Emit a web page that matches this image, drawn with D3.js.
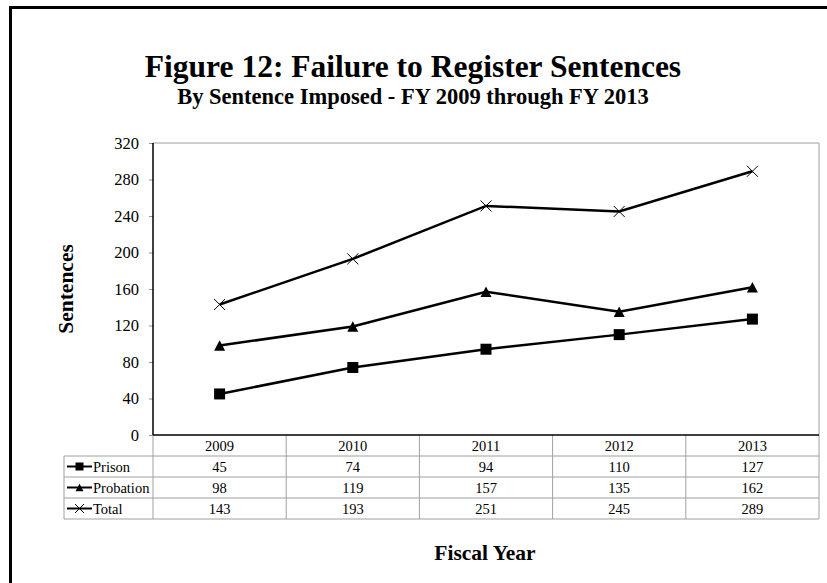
<!DOCTYPE html>
<html>
<head>
<meta charset="utf-8">
<script src="https://cdn.jsdelivr.net/npm/d3@7"></script>
<style>
  html, body { margin: 0; padding: 0; background: #fff; }
  svg { display: block; }
  text { font-family: "Liberation Serif", "Times New Roman", serif; fill: #000; }
</style>
</head>
<body>
<svg id="chart" width="827" height="583"></svg>
<script>
// Fiscal years and sentence counts by type
const years = ["2009", "2010", "2011", "2012", "2013"];
const prison = [45, 74, 94, 110, 127];
const probation = [98, 119, 157, 135, 162];
const total = [143, 193, 251, 245, 289];
const yTicks = [0, 40, 80, 120, 160, 200, 240, 280, 320];

const series = [
  { name: "Prison", values: prison, marker: "square" },
  { name: "Probation", values: probation, marker: "triangle" },
  { name: "Total", values: total, marker: "cross" }
];

const svg = d3.select("#chart");

// Outer frame (left and top edges visible)
svg.append("rect")
  .attr("x", 10.5).attr("y", 7.5)
  .attr("width", 840).attr("height", 600)
  .attr("fill", "none").attr("stroke", "#000").attr("stroke-width", 3);

// Titles
svg.append("text")
  .attr("x", 413).attr("y", 77)
  .attr("text-anchor", "middle")
  .attr("font-size", 31.5).attr("font-weight", "bold")
  .text("Figure 12: Failure to Register Sentences");
svg.append("text")
  .attr("x", 413).attr("y", 104)
  .attr("text-anchor", "middle")
  .attr("font-size", 22.5).attr("font-weight", "bold")
  .text("By Sentence Imposed - FY 2009 through FY 2013");

// Plot geometry
const plotLeft = 153, plotRight = 819, plotTop = 143, plotBottom = 435;
const x = d3.scaleBand().domain(years).range([plotLeft, plotRight]);
const y = d3.scaleLinear().domain([0, 320]).range([plotBottom, plotTop]);

// Plot area border (grey top and right)
svg.append("path")
  .attr("d", `M${plotLeft},${plotTop}H${plotRight}V${plotBottom}`)
  .attr("fill", "none").attr("stroke", "#a0a0a0").attr("stroke-width", 1);

// Y axis
const yAxis = svg.append("g")
  .attr("transform", `translate(${plotLeft},0)`)
  .call(d3.axisLeft(y).tickValues(yTicks).tickSize(4).tickPadding(10).tickFormat(d3.format("d")));
yAxis.select(".domain").remove();
yAxis.selectAll(".tick line").attr("stroke", "#909090");
yAxis.selectAll(".tick text")
  .attr("font-family", "Liberation Serif, serif")
  .attr("font-size", 16.5).attr("fill", "#000");

svg.append("line")
  .attr("x1", plotLeft).attr("x2", plotLeft).attr("y1", plotTop).attr("y2", plotBottom)
  .attr("stroke", "#000").attr("stroke-width", 1.5);

// Y axis title
svg.append("text")
  .attr("transform", `translate(72.5,${(plotTop + plotBottom) / 2}) rotate(-90)`)
  .attr("text-anchor", "middle")
  .attr("font-size", 21.5).attr("font-weight", "bold")
  .text("Sentences");

// Data table
const rowH = 21;
const tableTop = plotBottom;
const labelLeft = 64;
const tableBottom = tableTop + rowH * 4;
const grey = "#a0a0a0";
const tg = svg.append("g");

// horizontal rules
for (let i = 1; i <= 4; i++) {
  tg.append("line")
    .attr("x1", labelLeft).attr("x2", plotRight)
    .attr("y1", tableTop + rowH * i).attr("y2", tableTop + rowH * i)
    .attr("stroke", grey);
}
// vertical rules
tg.append("line").attr("x1", labelLeft).attr("x2", labelLeft)
  .attr("y1", tableTop + rowH).attr("y2", tableBottom).attr("stroke", grey);
years.forEach(yr => {
  tg.append("line").attr("x1", x(yr)).attr("x2", x(yr))
    .attr("y1", tableTop).attr("y2", tableBottom).attr("stroke", grey);
});
tg.append("line").attr("x1", plotRight).attr("x2", plotRight)
  .attr("y1", tableTop).attr("y2", tableBottom).attr("stroke", grey);

// X axis line (drawn over the table top)
svg.append("line")
  .attr("x1", plotLeft).attr("x2", plotRight).attr("y1", plotBottom).attr("y2", plotBottom)
  .attr("stroke", "#000").attr("stroke-width", 1.5);

// header row: years
tg.selectAll("text.year").data(years).enter().append("text")
  .attr("x", d => x(d) + x.bandwidth() / 2)
  .attr("y", tableTop + rowH / 2 + 5)
  .attr("text-anchor", "middle").attr("font-size", 14.5)
  .text(d => d);

function drawMarker(g, type, cx, cy, s) {
  if (type === "square") {
    g.append("rect").attr("x", cx - s / 2).attr("y", cy - s / 2)
      .attr("width", s).attr("height", s).attr("fill", "#000");
  } else if (type === "triangle") {
    const h = s * 0.95;
    g.append("path")
      .attr("d", `M${cx},${cy - h / 2}L${cx + s / 2},${cy + h / 2}L${cx - s / 2},${cy + h / 2}Z`)
      .attr("fill", "#000");
  } else {
    const r = s / 2;
    g.append("path")
      .attr("d", `M${cx - r},${cy - r}L${cx + r},${cy + r}M${cx - r},${cy + r}L${cx + r},${cy - r}`)
      .attr("stroke", "#000").attr("stroke-width", 1).attr("fill", "none");
  }
}

series.forEach((s, i) => {
  const cy = tableTop + rowH * (i + 1) + rowH / 2;
  // legend key
  tg.append("line").attr("x1", 67).attr("x2", 92).attr("y1", cy).attr("y2", cy)
    .attr("stroke", "#000").attr("stroke-width", 2);
  drawMarker(tg, s.marker, 79.5, cy, s.marker === "cross" ? 9 : 8);
  tg.append("text").attr("x", 93).attr("y", cy + 5)
    .attr("font-size", 14.5).text(s.name);
  // values
  s.values.forEach((v, j) => {
    tg.append("text")
      .attr("x", x(years[j]) + x.bandwidth() / 2)
      .attr("y", cy + 5)
      .attr("text-anchor", "middle").attr("font-size", 14.5)
      .text(v);
  });
});

// Lines and markers
const line = d3.line()
  .x((d, j) => x(years[j]) + x.bandwidth() / 2)
  .y(d => y(d));

series.forEach(s => {
  svg.append("path")
    .datum(s.values)
    .attr("d", line)
    .attr("fill", "none").attr("stroke", "#000").attr("stroke-width", 2.5);
  const mg = svg.append("g");
  s.values.forEach((v, j) => {
    drawMarker(mg, s.marker, x(years[j]) + x.bandwidth() / 2, y(v), 11);
  });
});

// X axis title
svg.append("text")
  .attr("x", 485).attr("y", 560)
  .attr("text-anchor", "middle")
  .attr("font-size", 21.5).attr("font-weight", "bold")
  .text("Fiscal Year");
</script>
</body>
</html>
